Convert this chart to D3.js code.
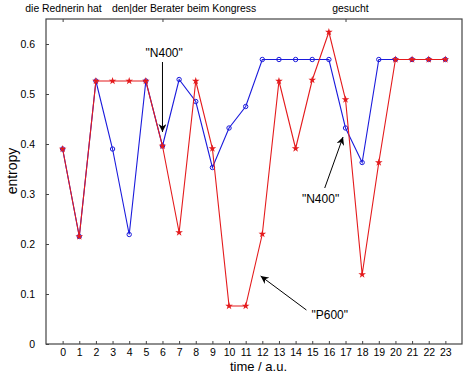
<!DOCTYPE html>
<html>
<head>
<meta charset="utf-8">
<script src="https://cdn.jsdelivr.net/npm/d3@7"></script>
<style>
  body { margin: 0; background: #fff; }
  svg { font-family: "Liberation Sans", Arial, sans-serif; }
</style>
</head>
<body>
<div id="chart-area"></div>
<script>
const MARGIN = { LEFT: 46, RIGHT: 2, TOP: 19, BOTTOM: 38 }
const WIDTH = 464 - MARGIN.LEFT - MARGIN.RIGHT
const HEIGHT = 382 - MARGIN.TOP - MARGIN.BOTTOM

// time steps 0..23
const times = d3.range(0, 24)
const redValues = [0.39, 0.215, 0.526, 0.526, 0.526, 0.526, 0.396, 0.223, 0.526, 0.391,
  0.076, 0.076, 0.22, 0.526, 0.391, 0.528, 0.624, 0.489, 0.139, 0.363,
  0.569, 0.569, 0.569, 0.569]
const blueValues = [0.39, 0.215, 0.526, 0.39, 0.219, 0.526, 0.396, 0.529, 0.485, 0.353,
  0.432, 0.475, 0.569, 0.569, 0.569, 0.569, 0.569, 0.432, 0.363, 0.569,
  0.569, 0.569, 0.569, 0.569]
const yTicks = [0, 0.1, 0.2, 0.3, 0.4, 0.5, 0.6]
const topTicks = [0, 6, 17]
const topLabels = [
  { t: 0.05, text: "die Rednerin hat" },
  { t: 7.3, text: "den|der Berater beim Kongress" },
  { t: 17.3, text: "gesucht" }
]
const notes = [
  { text: "\"N400\"", tx: 6.1, ty: 0.574, x1: 6, y1: 0.564, x2: 6, y2: 0.424 },
  { text: "\"N400\"", tx: 15.5, ty: 0.282, x1: 15.75, y1: 0.312, x2: 16.85, y2: 0.414 },
  { text: "\"P600\"", tx: 16.05, ty: 0.05, x1: 14.65, y1: 0.068, x2: 11.9, y2: 0.136 }
]

const svg = d3.select("#chart-area").append("svg")
  .attr("width", 464)
  .attr("height", 382)

const g = svg.append("g")
  .attr("transform", `translate(${MARGIN.LEFT}, ${MARGIN.TOP})`)

const x = d3.scaleLinear().domain([-1, 24]).range([0, WIDTH])
const y = d3.scaleLinear().domain([0, 0.65]).range([HEIGHT, 0])

svg.append("defs").append("marker")
  .attr("id", "arrow")
  .attr("viewBox", "0 0 10 10")
  .attr("refX", 10).attr("refY", 5)
  .attr("markerWidth", 8).attr("markerHeight", 8)
  .attr("markerUnits", "userSpaceOnUse")
  .attr("orient", "auto")
  .append("path")
  .attr("d", "M0,0 L10,5 L0,10 L3,5 Z")
  .attr("fill", "#000")

// bottom axis
const xAxis = g.append("g")
  .attr("transform", `translate(0, ${HEIGHT})`)
  .call(d3.axisBottom(x).tickValues(times).tickSizeInner(-3).tickSizeOuter(0).tickPadding(4.5))
// left axis
const yAxis = g.append("g")
  .call(d3.axisLeft(y).tickValues(yTicks).tickFormat(d => d).tickSizeInner(-3).tickSizeOuter(0).tickPadding(11))
// top ticks
const topAxis = g.append("g")
  .call(d3.axisTop(x).tickValues(topTicks).tickFormat("").tickSizeInner(-3).tickSizeOuter(0))

;[xAxis, yAxis, topAxis].forEach(a => {
  a.select(".domain").remove()
  a.selectAll("line").attr("stroke", "#444")
  a.selectAll("text").attr("font-size", "10.5px").attr("fill", "#000")
    .attr("font-family", "Liberation Sans, Arial, sans-serif")
})

g.append("rect")
  .attr("width", WIDTH).attr("height", HEIGHT)
  .attr("fill", "none").attr("stroke", "#444").attr("stroke-width", 1.2)

topLabels.forEach(l => {
  svg.append("text")
    .attr("x", MARGIN.LEFT + x(l.t)).attr("y", 12)
    .attr("text-anchor", "middle").attr("font-size", "10.4px")
    .text(l.text)
})

const line = d3.line().x((d, i) => x(times[i])).y(d => y(d))

g.append("path").datum(blueValues)
  .attr("d", line).attr("fill", "none").attr("stroke", "#1a1adc").attr("stroke-width", 1.1)
g.selectAll(".bdot").data(blueValues).enter().append("circle")
  .attr("cx", (d, i) => x(times[i])).attr("cy", d => y(d))
  .attr("r", 2.2).attr("fill", "none").attr("stroke", "#1a1adc").attr("stroke-width", 1)

g.append("path").datum(redValues)
  .attr("d", line).attr("fill", "none").attr("stroke", "#e41a1c").attr("stroke-width", 1.1)
g.selectAll(".rdot").data(redValues).enter().append("path")
  .attr("transform", (d, i) => `translate(${x(times[i])}, ${y(d)})`)
  .attr("d", d3.symbol(d3.symbolStar, 18))
  .attr("fill", "#e41a1c")

notes.forEach(n => {
  g.append("text")
    .attr("x", x(n.tx)).attr("y", y(n.ty))
    .attr("text-anchor", "middle").attr("font-size", "12px")
    .text(n.text)
  g.append("line")
    .attr("x1", x(n.x1)).attr("y1", y(n.y1))
    .attr("x2", x(n.x2)).attr("y2", y(n.y2))
    .attr("stroke", "#000").attr("stroke-width", 1)
    .attr("marker-end", "url(#arrow)")
})

// axis labels
svg.append("text")
  .attr("x", 258.5).attr("y", 370.5)
  .attr("text-anchor", "middle").attr("font-size", "13px")
  .text("time / a.u.")

svg.append("text")
  .attr("transform", `translate(17, 171) rotate(-90)`)
  .attr("text-anchor", "middle").attr("font-size", "14px")
  .text("entropy")
</script>
</body>
</html>
